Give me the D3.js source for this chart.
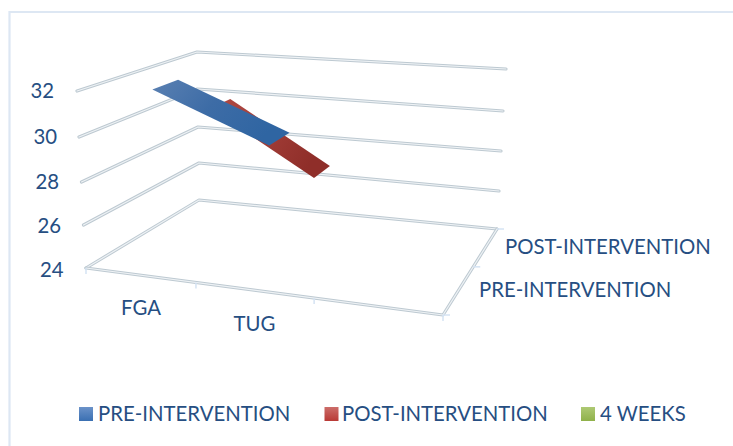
<!DOCTYPE html>
<html>
<head>
<meta charset="utf-8">
<script src="https://cdn.jsdelivr.net/npm/d3@7"></script>
<style>
html,body{margin:0;padding:0;background:#fff;}
svg{display:block;}
text{font-family:Lato,"Open Sans",sans-serif;fill:#264e82;}
</style>
</head>
<body>
<svg id="chart" width="733" height="446"></svg>
<script>
// Chart content
const categories = ["FGA", "TUG", ""];
const depthLabels = ["PRE-INTERVENTION", "POST-INTERVENTION"];
const legendLabels = ["PRE-INTERVENTION", "POST-INTERVENTION", "4 WEEKS"];
const valueTicks = [24, 26, 28, 30, 32];
const preValues = [32, 30];
const postValues = [30, 27];

const svg = d3.select("#chart");
const defs = svg.append("defs");

function gradient(id, stops, x2, y2) {
  const g = defs.append("linearGradient").attr("id", id)
    .attr("x1", 0).attr("y1", 0).attr("x2", x2).attr("y2", y2);
  stops.forEach((c, i) => g.append("stop").attr("offset", i / (stops.length - 1)).attr("stop-color", c));
}
gradient("ribbonBlue", ["#5a80b2", "#3d6ca6", "#2f65a2"], 1, 0.4);
gradient("ribbonRed", ["#b04a44", "#a33e38", "#8f2e29"], 1, 0.4);
gradient("keyBlue", ["#6b92c9", "#3a6fb2"], 0, 1);
gradient("keyRed", ["#cc6d69", "#b93a36"], 0, 1);
gradient("keyGreen", ["#aec974", "#8fb14a"], 0, 1);

// Outer chart frame
svg.append("path").attr("d", "M9.5,446V12H733").attr("fill", "none")
  .attr("stroke", "#dde7f3").attr("stroke-width", 2.2);

// Oblique 3D frame: each corner of the box moves with the value axis
const corner = (xs, ys) => ({
  x: d3.scaleLinear().domain(valueTicks).range(xs),
  y: d3.scaleLinear().domain(valueTicks).range(ys)
});
const frontLeft = corner([86, 83.5, 81.5, 79, 77], [268, 225, 182, 137, 91]);
const backLeft = corner([199, 199, 198, 197.5, 197], [200, 163, 127, 89, 52]);
const backRight = corner([497, 499, 501, 503, 506], [229, 191, 151, 111, 69]);
const frontRight = corner([443, 446, 449, 452, 455], [315, 268, 221, 173, 124]);

// Perspective spacing along the category and depth directions
const xPos = d3.scaleLinear().domain([0, 1, 2, 3]).range([0, 0.308, 0.639, 1]);
const zPos = d3.scaleLinear().domain([0, 1, 2]).range([0, 0.56, 1]);

function project(cat, depth, value) {
  const u = xPos(cat), w = zPos(depth);
  const mix = axis => {
    const front = frontLeft[axis](value) * (1 - u) + frontRight[axis](value) * u;
    const back = backLeft[axis](value) * (1 - u) + backRight[axis](value) * u;
    return front * (1 - w) + back * w;
  };
  return [mix("x"), mix("y")];
}

// Grid lines drawn as thin hollow rods
const rod = pts => {
  const d = d3.line()(pts);
  svg.append("path").attr("d", d).attr("fill", "none").attr("stroke", "#bdc9d1")
    .attr("stroke-width", 3.2).attr("stroke-linejoin", "round").attr("stroke-linecap", "round");
  svg.append("path").attr("d", d).attr("fill", "none").attr("stroke", "#eef2f5")
    .attr("stroke-width", 1.2).attr("stroke-linejoin", "round").attr("stroke-linecap", "round");
};

valueTicks.forEach(v => {
  rod([project(0, 0, v), project(0, 2, v), project(3, 2, v)]);
});
rod([project(0, 0, 24), project(3, 0, 24), project(3, 2, 24)]);

// Tick marks on the floor edges
const tickColor = "#d5e3f3";
d3.range(0, 4).forEach(i => {
  const [x, y] = project(i, 0, 24);
  svg.append("line").attr("x1", x).attr("x2", x).attr("y1", y).attr("y2", y + 6)
    .attr("stroke", tickColor).attr("stroke-width", 1.5);
});
d3.range(0, 3).forEach(i => {
  const [x, y] = project(3, i, 24);
  svg.append("line").attr("x1", x).attr("x2", x + 7).attr("y1", y).attr("y2", y)
    .attr("stroke", tickColor).attr("stroke-width", 1.5);
});

// Ribbons, back series first so the front one overlaps
const ribbonDepth = [0.28, 0.7];
const ribbon = (values, slot, fill) => {
  const near = values.map((v, i) => project(i + 0.5, slot + ribbonDepth[0], v));
  const far = values.map((v, i) => project(i + 0.5, slot + ribbonDepth[1], v));
  svg.append("path").attr("d", d3.line()(near.concat(far.reverse())) + "Z").attr("fill", `url(#${fill})`);
};
ribbon(postValues, 1, "ribbonRed");
ribbon(preValues, 0, "ribbonBlue");

// Axis labels: a slightly condensed humanist face
const fontSize = 22;
const condense = 0.925;
const label = (x, y, s, anchor) => svg.append("text")
  .attr("transform", `translate(${x},${y}) scale(${condense},1)`).text(s)
  .attr("font-size", fontSize).attr("text-anchor", anchor || "start");

const valueLabelX = d3.scaleLinear().domain(valueTicks).range([63.5, 61, 59, 57, 54]);
const valueLabelY = d3.scaleLinear().domain(valueTicks).range([277, 233, 189, 144, 98]);
valueTicks.forEach(v => label(valueLabelX(v), valueLabelY(v), v, "end"));

const catLabelX = [141, 254.5];
const catLabelY = [315, 331];
categories.filter(c => c).forEach((c, i) => label(catLabelX[i], catLabelY[i], c, "middle"));

label(479, 297, depthLabels[0]);
label(505, 254, depthLabels[1]);

// Legend
const keyX = d3.scaleOrdinal().domain(legendLabels).range([79, 324.5, 581]);
const textX = d3.scaleOrdinal().domain(legendLabels).range([98, 342, 600]);
const keyFill = d3.scaleOrdinal().domain(legendLabels).range(["keyBlue", "keyRed", "keyGreen"]);
legendLabels.forEach(s => {
  svg.append("rect").attr("x", keyX(s)).attr("y", 407).attr("width", 14).attr("height", 14)
    .attr("fill", `url(#${keyFill(s)})`);
  label(textX(s), 421, s);
});
</script>
</body>
</html>
